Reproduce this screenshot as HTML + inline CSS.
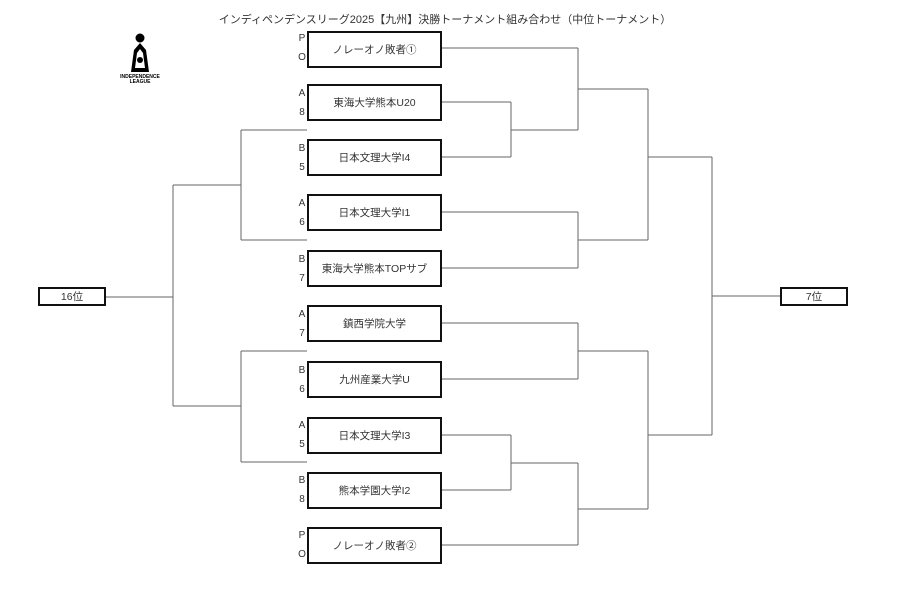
<!DOCTYPE html>
<html><head><meta charset="utf-8"><style>
html,body{margin:0;padding:0;background:#fff;}
body{width:900px;height:606px;position:relative;overflow:hidden;font-family:"Liberation Sans","Noto Sans CJK JP",sans-serif;}
.t{position:absolute;font-size:10px;color:#333;white-space:nowrap;}
.box{position:absolute;left:307px;width:131px;height:33px;border:2px solid #111;font-size:10.5px;color:#333;display:flex;align-items:center;justify-content:center;box-sizing:content-box;}
.lb{position:absolute;left:297px;font-size:10px;color:#333;line-height:19px;width:10px;text-align:center;}
.rk{position:absolute;height:15px;border:2px solid #111;font-size:10.5px;color:#333;display:flex;align-items:center;justify-content:center;}
</style></head><body>
<div class="t" style="left:0;width:890px;text-align:center;top:11px;font-size:11px;">インディペンデンスリーグ2025【九州】決勝トーナメント組み合わせ（中位トーナメント）</div>
<svg width="900" height="606" style="position:absolute;left:0;top:0" fill="none" stroke="#666" stroke-width="1">
<g>
<circle cx="140" cy="38" r="4.5" fill="#000" stroke="none"/>
<path d="M140 43 L134 50 L131 72 L149 72 L146 50 Z" fill="#000" stroke="none"/>
<path d="M140 49 L137 53 L135 68 L145 68 L143 53 Z" fill="#fff" stroke="none"/>
<circle cx="140" cy="60" r="3" fill="#000" stroke="none"/>
<text x="140" y="78" font-size="5" font-weight="bold" text-anchor="middle" fill="#000" stroke="none" font-family="Liberation Sans">INDEPENDENCE</text>
<text x="140" y="83" font-size="5" font-weight="bold" text-anchor="middle" fill="#000" stroke="none" font-family="Liberation Sans">LEAGUE</text>
</g>
<path d="M441 48H578 M441 102H511 M441 157H511 M511 102V157 M511 130H578 M578 48V130 M578 89H648"/>
<path d="M441 212H578 M441 268H578 M578 212V268 M578 240H648 M648 89V240 M648 157H712"/>
<path d="M441 323H578 M441 379H578 M578 323V379 M578 351H648"/>
<path d="M441 435H511 M441 490H511 M511 435V490 M511 463H578 M441 545H578 M578 463V545 M578 509H648 M648 351V509 M648 435H712"/>
<path d="M712 157V435 M712 296H780"/>
<path d="M241 130H307 M241 240H307 M241 130V240 M241 185H173"/>
<path d="M241 351H307 M241 462H307 M241 351V462 M241 406H173"/>
<path d="M173 185V406 M173 297H105"/>
</svg>
<div class="rk" style="left:38px;top:287px;width:64px;">16位</div>
<div class="rk" style="left:780px;top:287px;width:64px;">7位</div>

<div class="lb" style="top:29px">P<br>O</div><div class="box" style="top:31px">ノレーオノ敗者①</div>
<div class="lb" style="top:84px">A<br>8</div><div class="box" style="top:84px">東海大学熊本U20</div>
<div class="lb" style="top:139px">B<br>5</div><div class="box" style="top:139px">日本文理大学I4</div>
<div class="lb" style="top:194px">A<br>6</div><div class="box" style="top:194px">日本文理大学I1</div>
<div class="lb" style="top:250px">B<br>7</div><div class="box" style="top:250px">東海大学熊本TOPサブ</div>
<div class="lb" style="top:305px">A<br>7</div><div class="box" style="top:305px">鎮西学院大学</div>
<div class="lb" style="top:361px">B<br>6</div><div class="box" style="top:361px">九州産業大学U</div>
<div class="lb" style="top:416px">A<br>5</div><div class="box" style="top:417px">日本文理大学I3</div>
<div class="lb" style="top:471px">B<br>8</div><div class="box" style="top:472px">熊本学園大学I2</div>
<div class="lb" style="top:526px">P<br>O</div><div class="box" style="top:527px">ノレーオノ敗者②</div>
</body></html>
